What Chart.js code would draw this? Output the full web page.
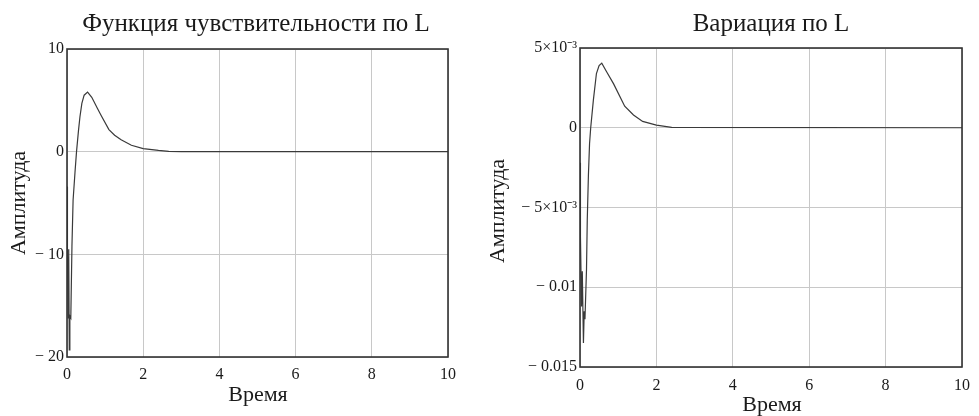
<!DOCTYPE html>
<html>
<head>
<meta charset="utf-8">
<script src="https://cdn.jsdelivr.net/npm/chart.js@4.4.1/dist/chart.umd.min.js"></script>
<style>
  html, body { margin: 0; padding: 0; background: #fff; }
  #wrap { position: relative; width: 979px; height: 416px; overflow: hidden; }
  .box { position: absolute; top: 0; height: 416px; }
  #boxL { left: 0; width: 480px; }
  #boxV { left: 480px; width: 499px; }
</style>
</head>
<body>
<div id="wrap">
  <div class="box" id="boxL"><canvas id="cL"></canvas></div>
  <div class="box" id="boxV"><canvas id="cV"></canvas></div>
</div>
<script>
// ---- Data ----
const chartTitleL = 'Функция чувствительности по L';
const chartTitleV = 'Вариация по L';
const xAxisTitle = 'Время';
const yAxisTitle = 'Амплитуда';

const xTickLabels = ['0', '2', '4', '6', '8', '10'];
const yTickLabelsL = ['− 20', '− 10', '0', '10'];
const yTickLabelsV = ['− 0.015', '− 0.01', '− 5×10⁻³', '0', '5×10⁻³'];

// Sensitivity function over L (left)
const timeL = [0, 0.005, 0.01, 0.02, 0.03, 0.045, 0.06, 0.075, 0.1, 0.13, 0.16, 0.21, 0.25, 0.3, 0.34, 0.39, 0.45, 0.54, 0.65, 0.8, 0.9, 1.1, 1.25, 1.42, 1.69, 2.0, 2.4, 2.67, 3.0, 10];
const sensL = [-3.4, -8.7, -3.6, -9.8, -16.2, -9.5, -19.3, -16.0, -16.2, -9.2, -4.7, -2.0, 0, 2.0, 3.4, 4.7, 5.5, 5.8, 5.3, 4.2, 3.5, 2.15, 1.6, 1.15, 0.62, 0.3, 0.12, 0.03, 0, 0];

// Variation over L (right)
const timeV = [0, 0.005, 0.01, 0.02, 0.04, 0.06, 0.09, 0.11, 0.13, 0.17, 0.19, 0.22, 0.25, 0.28, 0.35, 0.43, 0.5, 0.57, 0.7, 0.88, 1.17, 1.4, 1.64, 2.0, 2.4, 10];
const varV = [-0.0022, -0.0068, -0.003, -0.0068, -0.0112, -0.009, -0.0135, -0.0115, -0.012, -0.0089, -0.0058, -0.003, -0.001, 0, 0.00173, 0.0034, 0.0039, 0.00405, 0.0035, 0.00275, 0.00135, 0.0008, 0.0004, 0.00017, 0.00002, 0];

const SERIF = "'Liberation Serif', 'Times New Roman', serif";

function pts(xs, ys) { return xs.map((x, i) => ({ x: x, y: ys[i] })); }

const framePlugin = {
  id: 'frameText',
  afterDatasetsDraw(chart, args, o) {
    const ctx = chart.ctx, a = chart.chartArea;
    ctx.save();
    ctx.strokeStyle = '#333';
    ctx.lineWidth = 1.6;
    ctx.strokeRect(a.left, a.top, a.right - a.left, a.bottom - a.top);
    ctx.fillStyle = '#1a1a1a';
    ctx.textAlign = 'center';
    ctx.textBaseline = 'alphabetic';
    ctx.font = o.titleSize + 'px ' + SERIF;
    ctx.fillText(o.title, o.titleX, o.titleY);
    ctx.font = o.axisSize + 'px ' + SERIF;
    ctx.fillText(o.xTitle, o.xTitleX, o.xTitleY);
    ctx.translate(o.yTitleX, o.yTitleY);
    ctx.rotate(-Math.PI / 2);
    ctx.textBaseline = 'middle';
    ctx.fillText(o.yTitle, 0, 0);
    ctx.restore();
  }
};

function makeChart(id, xs, ys, yMin, yMax, yStep, yLabels, geom, textOpts) {
  return new Chart(document.getElementById(id), {
    type: 'line',
    data: {
      datasets: [{
        data: pts(xs, ys),
        borderColor: '#3a3a3a',
        borderWidth: 1.2,
        pointRadius: 0,
        tension: 0,
        fill: false
      }]
    },
    options: {
      responsive: true,
      maintainAspectRatio: false,
      animation: false,
      events: [],
      layout: { padding: { left: 0, top: geom.top, right: geom.right, bottom: 0 } },
      plugins: {
        legend: { display: false },
        title: { display: false },
        tooltip: { enabled: false },
        frameText: textOpts
      },
      scales: {
        x: {
          type: 'linear',
          min: 0, max: 10,
          afterFit: s => { s.height = geom.xH; },
          ticks: {
            stepSize: 2,
            padding: geom.xPad,
            color: '#1a1a1a',
            font: { family: SERIF, size: 16 },
            maxRotation: 0,
            callback: (v, i) => xTickLabels[i]
          },
          grid: { color: '#c8c8c8', lineWidth: 1, drawTicks: false },
          border: { display: false }
        },
        y: {
          type: 'linear',
          min: yMin, max: yMax,
          afterFit: s => { s.width = geom.yW; },
          ticks: {
            stepSize: yStep,
            padding: 3,
            color: '#1a1a1a',
            font: { family: SERIF, size: 16 },
            callback: (v, i) => yLabels[i]
          },
          grid: { color: '#c8c8c8', lineWidth: 1, drawTicks: false },
          border: { display: false }
        }
      }
    },
    plugins: [framePlugin]
  });
}

makeChart('cL', timeL, sensL, -20, 10, 10, yTickLabelsL,
  { top: 49, right: 32, xH: 59, yW: 67, xPad: 8 },
  { title: chartTitleL, titleX: 256, titleY: 31, titleSize: 25,
    xTitle: xAxisTitle, xTitleX: 258, xTitleY: 401, axisSize: 22,
    yTitle: yAxisTitle, yTitleX: 19, yTitleY: 203 });

makeChart('cV', timeV, varV, -0.015, 0.005, 0.005, yTickLabelsV,
  { top: 48, right: 13, xH: 49, yW: 100, xPad: 9 },
  { title: chartTitleV, titleX: 291, titleY: 31, titleSize: 25,
    xTitle: xAxisTitle, xTitleX: 292, xTitleY: 411, axisSize: 22,
    yTitle: yAxisTitle, yTitleX: 18, yTitleY: 211 });
</script>
</body>
</html>
